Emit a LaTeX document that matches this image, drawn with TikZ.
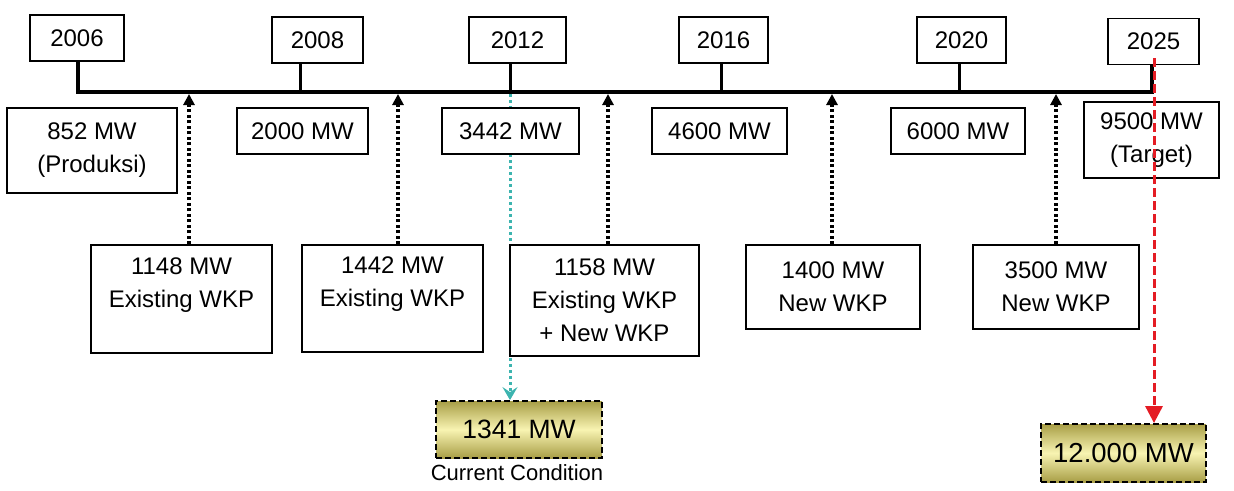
\documentclass[tikz,border=0pt]{standalone}
\usepackage{fontspec}
\setmainfont{Liberation Sans}
\usetikzlibrary{arrows.meta}
\definecolor{gold1}{RGB}{168,158,70}
\definecolor{gold2}{RGB}{248,244,178}
\definecolor{cyanline}{RGB}{60,180,175}
\definecolor{redline}{RGB}{228,28,36}
\pgfdeclarelayer{bg}
\pgfsetlayers{bg,main}
\newcommand\mwfont{\fontsize{24}{33}\selectfont}
\newcommand\goldfont{\fontsize{26.5}{30}\selectfont}
\tikzset{
  box/.style={draw, line width=1.8pt, fill=white, inner sep=0pt, align=center, font=\mwfont},
  goldbox/.style={draw, line width=1.8pt, dash pattern=on 6pt off 3pt, inner sep=0pt,
    top color=gold1, bottom color=gold1, middle color=gold2, font=\goldfont},
  tline/.style={line width=3.5pt},
  upar/.style={line width=3.5pt, dash pattern=on 3pt off 2.5pt, -{Triangle[length=11pt,width=11pt]}},
  cyanar/.style={draw=cyanline, line width=3pt, dash pattern=on 3pt off 3pt,
    -{Stealth[length=13pt,width=15pt,inset=5pt,color=cyanline]}},
  redar/.style={draw=redline, line width=3pt, dash pattern=on 9pt off 4pt,
    -{Triangle[length=17pt,width=17pt,color=redline]}}
}
\begin{document}
\begin{tikzpicture}[x=1pt,y=-1pt]
\useasboundingbox (0,0) rectangle (1234,490);
% stem and timeline coordinates
\coordinate (s2006) at (78,92);
\coordinate (s2008) at (300,92);
\coordinate (s2012) at (510,92);
\coordinate (s2016) at (721,92);
\coordinate (s2020) at (959,92);
\coordinate (s2025) at (1152,92);
\coordinate (a1) at (189,92);
\coordinate (a2) at (398,92);
\coordinate (a3) at (608,92);
\coordinate (a4) at (832,92);
\coordinate (a5) at (1056,92);
\coordinate (r0) at (1154,58);
% year boxes
\node[box, minimum width=94pt, minimum height=46pt] (y2006) at (77,38) {2006};
\node[box, minimum width=91pt, minimum height=46pt] (y2008) at (317.5,40) {2008};
\node[box, minimum width=97pt, minimum height=46pt] (y2012) at (517.5,40) {2012};
\node[box, minimum width=89pt, minimum height=46pt] (y2016) at (723.5,40) {2016};
\node[box, minimum width=89pt, minimum height=46pt] (y2020) at (961.5,40) {2020};
\node[box, minimum width=91pt, minimum height=46pt] (y2025) at (1153.5,41.5) {2025};
% timeline
\draw[tline] (y2006.south -| s2006) -- (s2006) -- (s2025) -- (y2025.south -| s2025);
\foreach \y in {2008,2012,2016,2020}
  \draw[tline, line width=3pt] (y\y.south -| s\y) -- (s\y);
% middle boxes
\node[box, minimum width=170pt, minimum height=85pt] (m852) at (92,150.5) {852 MW\\(Produksi)};
\node[box, minimum width=131pt, minimum height=46pt] (m2000) at (302.5,131) {2000 MW};
\node[box, minimum width=137pt, minimum height=46pt] (m3442) at (510.5,131) {3442 MW};
\node[box, minimum width=135pt, minimum height=46pt] (m4600) at (719.5,131) {4600 MW};
\node[box, minimum width=134pt, minimum height=46pt] (m6000) at (958,131) {6000 MW};
\node[box, minimum width=135pt, minimum height=76pt] (m9500) at (1151.5,140) {9500 MW\\(Target)};
% bottom boxes
\node[box, minimum width=181pt, minimum height=108pt] (b1148) at (181.5,299) {1148 MW\\Existing WKP\\\mbox{}};
\node[box, minimum width=181pt, minimum height=107pt] (b1442) at (392.5,298.5) {1442 MW\\Existing WKP\\\mbox{}};
\node[box, minimum width=189pt, minimum height=111pt] (b1158) at (604.5,300.5) {1158 MW\\Existing WKP\\+ New WKP};
\node[box, minimum width=174pt, minimum height=84pt] (b1400) at (833,287) {1400 MW\\New WKP};
\node[box, minimum width=166pt, minimum height=84pt] (b3500) at (1056,287) {3500 MW\\New WKP};
% gold boxes
\node[goldbox, minimum width=166pt, minimum height=57pt] (g1341) at (519,429.5) {1341 MW};
\node[goldbox, minimum width=165pt, minimum height=58pt, font=\fontsize{27.5}{30}\selectfont] (g12000) at (1123.5,453) {12.000 MW};
\node[font=\fontsize{22}{24}\selectfont, anchor=north, inner sep=0pt] (cc) at ([yshift=-5pt]g1341.south -| 517,0) {Current Condition};
% upward dotted arrows
\draw[upar] (b1148.north -| a1) -- ([yshift=-2pt]a1);
\draw[upar] (b1442.north -| a2) -- ([yshift=-2pt]a2);
\draw[upar] (b1158.north -| a3) -- ([yshift=-2pt]a3);
\draw[upar] (b1400.north -| a4) -- ([yshift=-2pt]a4);
\draw[upar] (b3500.north -| a5) -- ([yshift=-2pt]a5);
% cyan line (behind boxes)
\begin{pgfonlayer}{bg}
\draw[cyanar] ([yshift=-2pt]s2012) -- (g1341.north -| s2012);
\end{pgfonlayer}
% red line (on top)
\draw[redar] (r0) -- (g12000.north -| r0);
\end{tikzpicture}
\end{document}
